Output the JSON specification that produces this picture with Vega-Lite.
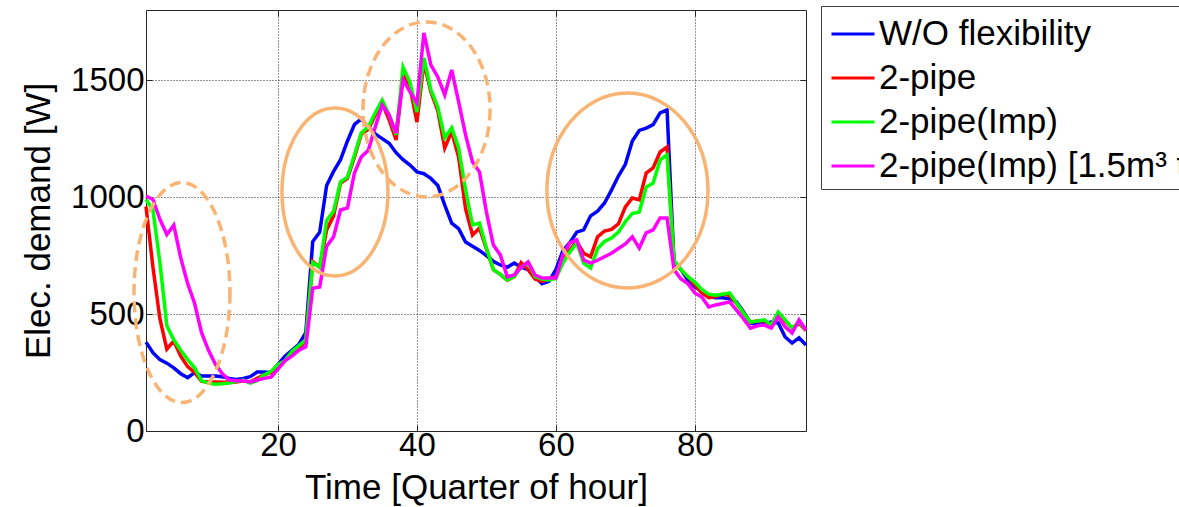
{
  "$schema": "https://vega.github.io/schema/vega-lite/v6.json",
  "width": 660,
  "height": 421,
  "autosize": {"type": "none"},
  "padding": {"left": 146, "top": 10, "right": 373, "bottom": 76},
  "background": "white",
  "config": {
    "font": "Liberation Sans",
    "view": {"stroke": "#262626", "strokeWidth": 1}
  },
  "resolve": {"axis": {"x": "independent", "y": "independent"}},
  "layer": [
    {
      "data": {
        "values": [
          {"t": 1, "wo": 380, "p2": 960, "imp": 990, "tank": 1005},
          {"t": 2, "wo": 335, "p2": 700, "imp": 945, "tank": 990},
          {"t": 3, "wo": 305, "p2": 480, "imp": 720, "tank": 905},
          {"t": 4, "wo": 290, "p2": 350, "imp": 450, "tank": 840},
          {"t": 5, "wo": 270, "p2": 385, "imp": 390, "tank": 880},
          {"t": 6, "wo": 245, "p2": 320, "imp": 345, "tank": 740},
          {"t": 7, "wo": 228, "p2": 275, "imp": 305, "tank": 630},
          {"t": 8, "wo": 250, "p2": 250, "imp": 270, "tank": 545},
          {"t": 9, "wo": 235, "p2": 212, "imp": 215, "tank": 420},
          {"t": 10, "wo": 235, "p2": 210, "imp": 205, "tank": 345},
          {"t": 11, "wo": 235, "p2": 210, "imp": 200, "tank": 285},
          {"t": 12, "wo": 232, "p2": 208, "imp": 202, "tank": 245},
          {"t": 13, "wo": 225, "p2": 210, "imp": 205, "tank": 218},
          {"t": 14, "wo": 220, "p2": 210, "imp": 212, "tank": 215},
          {"t": 15, "wo": 225, "p2": 215, "imp": 218, "tank": 215},
          {"t": 16, "wo": 232, "p2": 210, "imp": 205, "tank": 210},
          {"t": 17, "wo": 252, "p2": 225, "imp": 215, "tank": 218},
          {"t": 18, "wo": 252, "p2": 240, "imp": 240, "tank": 225},
          {"t": 19, "wo": 250, "p2": 250, "imp": 255, "tank": 230},
          {"t": 20, "wo": 285, "p2": 275, "imp": 285, "tank": 265},
          {"t": 21, "wo": 320, "p2": 300, "imp": 300, "tank": 300},
          {"t": 22, "wo": 345, "p2": 335, "imp": 340, "tank": 320},
          {"t": 23, "wo": 370, "p2": 355, "imp": 365, "tank": 345},
          {"t": 24, "wo": 420, "p2": 385, "imp": 390, "tank": 360},
          {"t": 25, "wo": 810, "p2": 725, "imp": 720, "tank": 610},
          {"t": 26, "wo": 850, "p2": 700, "imp": 700, "tank": 616},
          {"t": 27, "wo": 1050, "p2": 860, "imp": 900, "tank": 790},
          {"t": 28, "wo": 1110, "p2": 920, "imp": 940, "tank": 830},
          {"t": 29, "wo": 1160, "p2": 1060, "imp": 1065, "tank": 945},
          {"t": 30, "wo": 1240, "p2": 1080, "imp": 1085, "tank": 954},
          {"t": 31, "wo": 1310, "p2": 1170, "imp": 1180, "tank": 1103},
          {"t": 32, "wo": 1335, "p2": 1270, "imp": 1275, "tank": 1172},
          {"t": 33, "wo": 1300, "p2": 1290, "imp": 1300, "tank": 1200},
          {"t": 34, "wo": 1270, "p2": 1350, "imp": 1360, "tank": 1300},
          {"t": 35, "wo": 1250, "p2": 1400, "imp": 1415, "tank": 1394},
          {"t": 36, "wo": 1230, "p2": 1330, "imp": 1351, "tank": 1351},
          {"t": 37, "wo": 1190, "p2": 1244, "imp": 1266, "tank": 1274},
          {"t": 38, "wo": 1160, "p2": 1522, "imp": 1556, "tank": 1501},
          {"t": 39, "wo": 1137, "p2": 1470, "imp": 1490, "tank": 1450},
          {"t": 40, "wo": 1108, "p2": 1321, "imp": 1364, "tank": 1403},
          {"t": 41, "wo": 1100, "p2": 1575, "imp": 1595, "tank": 1702},
          {"t": 42, "wo": 1080, "p2": 1450, "imp": 1460, "tank": 1565},
          {"t": 43, "wo": 1050, "p2": 1370, "imp": 1385, "tank": 1514},
          {"t": 44, "wo": 966, "p2": 1210, "imp": 1253, "tank": 1437},
          {"t": 45, "wo": 889, "p2": 1280, "imp": 1296, "tank": 1544},
          {"t": 46, "wo": 865, "p2": 1170, "imp": 1210, "tank": 1407},
          {"t": 47, "wo": 808, "p2": 950, "imp": 1030, "tank": 1266},
          {"t": 48, "wo": 790, "p2": 838, "imp": 881, "tank": 1150},
          {"t": 49, "wo": 772, "p2": 868, "imp": 889, "tank": 1108},
          {"t": 50, "wo": 750, "p2": 778, "imp": 782, "tank": 936},
          {"t": 51, "wo": 725, "p2": 690, "imp": 690, "tank": 795},
          {"t": 52, "wo": 710, "p2": 670, "imp": 670, "tank": 753},
          {"t": 53, "wo": 700, "p2": 645, "imp": 646, "tank": 659},
          {"t": 54, "wo": 718, "p2": 660, "imp": 660, "tank": 667},
          {"t": 55, "wo": 700, "p2": 720, "imp": 700, "tank": 700},
          {"t": 56, "wo": 690, "p2": 690, "imp": 720, "tank": 723},
          {"t": 57, "wo": 660, "p2": 650, "imp": 660, "tank": 667},
          {"t": 58, "wo": 630, "p2": 640, "imp": 650, "tank": 654},
          {"t": 59, "wo": 640, "p2": 650, "imp": 646, "tank": 654},
          {"t": 60, "wo": 690, "p2": 660, "imp": 652, "tank": 654},
          {"t": 61, "wo": 770, "p2": 730, "imp": 718, "tank": 753},
          {"t": 62, "wo": 805, "p2": 775, "imp": 765, "tank": 804},
          {"t": 63, "wo": 850, "p2": 810, "imp": 804, "tank": 817},
          {"t": 64, "wo": 860, "p2": 760, "imp": 718, "tank": 731},
          {"t": 65, "wo": 920, "p2": 745, "imp": 697, "tank": 718},
          {"t": 66, "wo": 940, "p2": 830, "imp": 780, "tank": 730},
          {"t": 67, "wo": 975, "p2": 855, "imp": 810, "tank": 745},
          {"t": 68, "wo": 1030, "p2": 862, "imp": 825, "tank": 760},
          {"t": 69, "wo": 1090, "p2": 885, "imp": 850, "tank": 780},
          {"t": 70, "wo": 1140, "p2": 958, "imp": 895, "tank": 800},
          {"t": 71, "wo": 1240, "p2": 996, "imp": 930, "tank": 830},
          {"t": 72, "wo": 1285, "p2": 988, "imp": 936, "tank": 782},
          {"t": 73, "wo": 1295, "p2": 1103, "imp": 1043, "tank": 847},
          {"t": 74, "wo": 1310, "p2": 1125, "imp": 1060, "tank": 860},
          {"t": 75, "wo": 1360, "p2": 1193, "imp": 1159, "tank": 911},
          {"t": 76, "wo": 1373, "p2": 1214, "imp": 1180, "tank": 911},
          {"t": 77, "wo": 720, "p2": 725, "imp": 730, "tank": 690},
          {"t": 78, "wo": 690, "p2": 690, "imp": 690, "tank": 650},
          {"t": 79, "wo": 645, "p2": 660, "imp": 660, "tank": 630},
          {"t": 80, "wo": 615, "p2": 625, "imp": 637, "tank": 590},
          {"t": 81, "wo": 600, "p2": 590, "imp": 605, "tank": 573},
          {"t": 82, "wo": 575, "p2": 570, "imp": 585, "tank": 530},
          {"t": 83, "wo": 570, "p2": 575, "imp": 580, "tank": 539},
          {"t": 84, "wo": 570, "p2": 585, "imp": 585, "tank": 545},
          {"t": 85, "wo": 565, "p2": 580, "imp": 590, "tank": 552},
          {"t": 86, "wo": 552, "p2": 545, "imp": 547, "tank": 517},
          {"t": 87, "wo": 510, "p2": 505, "imp": 505, "tank": 480},
          {"t": 88, "wo": 462, "p2": 465, "imp": 466, "tank": 440},
          {"t": 89, "wo": 455, "p2": 470, "imp": 470, "tank": 450},
          {"t": 90, "wo": 460, "p2": 472, "imp": 475, "tank": 453},
          {"t": 91, "wo": 466, "p2": 452, "imp": 453, "tank": 440},
          {"t": 92, "wo": 462, "p2": 500, "imp": 509, "tank": 488},
          {"t": 93, "wo": 402, "p2": 470, "imp": 475, "tank": 445},
          {"t": 94, "wo": 376, "p2": 440, "imp": 440, "tank": 419},
          {"t": 95, "wo": 398, "p2": 460, "imp": 466, "tank": 475},
          {"t": 96, "wo": 368, "p2": 430, "imp": 432, "tank": 432}
        ]
      },
      "transform": [{"fold": ["wo", "p2", "imp", "tank"], "as": ["s", "v"]}],
      "mark": {"type": "line", "strokeWidth": 3.5},
      "encoding": {
        "x": {
          "field": "t", "type": "quantitative",
          "scale": {"domain": [1, 96], "nice": false, "zero": false},
          "axis": {
            "orient": "bottom", "values": [20, 40, 60, 80],
            "title": "Time [Quarter of hour]", "titleFontSize": 35, "titleFontWeight": "normal",
            "titleColor": "black", "titlePadding": 8, "titleFont": "Liberation Sans",
            "labelFontSize": 33, "labelColor": "black", "labelPadding": 4, "labelFont": "Liberation Sans",
            "tickSize": -6, "tickColor": "#262626", "domain": false,
            "grid": true, "gridColor": "#262626", "gridDash": [1, 2], "gridWidth": 1
          }
        },
        "y": {
          "field": "v", "type": "quantitative",
          "scale": {"domain": [0, 1800], "nice": false},
          "axis": {
            "orient": "left", "values": [0, 500, 1000, 1500], "format": "d",
            "title": "Elec. demand [W]", "titleFontSize": 35, "titleFontWeight": "normal",
            "titleColor": "black", "titlePadding": 14, "titleFont": "Liberation Sans",
            "labelFontSize": 33, "labelColor": "black", "labelPadding": 8, "labelFont": "Liberation Sans",
            "tickSize": -6, "tickColor": "#262626", "domain": false,
            "grid": true, "gridColor": "#262626", "gridDash": [1, 2], "gridWidth": 1
          }
        },
        "color": {
          "field": "s", "type": "nominal",
          "scale": {"domain": ["wo", "p2", "imp", "tank"], "range": ["#0000ff", "#ff0000", "#00ff00", "#ff00ff"]},
          "legend": {
            "orient": "none", "legendX": 675, "legendY": -4, "title": null,
            "symbolType": "stroke", "symbolSize": 1849, "symbolStrokeWidth": 3, "symbolOffset": 4,
            "labelFontSize": 35, "labelFont": "Liberation Sans", "labelColor": "black",
            "strokeColor": "#404040", "fillColor": "white", "padding": 5,
            "labelOffset": 3, "rowPadding": 3, "labelLimit": 0,
            "labelExpr": "datum.value == 'wo' ? 'W/O flexibility' : datum.value == 'p2' ? '2-pipe' : datum.value == 'imp' ? '2-pipe(Imp)' : '2-pipe(Imp) [1.5m³ tank]'"
          }
        }
      }
    },
    {
      "data": {"values": [{"t": 6.18, "v": 592}]},
      "mark": {
        "type": "point", "filled": false, "color": "#f9b473", "strokeWidth": 3.5, "strokeDash": [11, 6], "opacity": 1,
        "size": 48400,
        "shape": "M 0.436 0 C 0.436 0.5523 0.2408 1 0 1 C -0.2408 1 -0.436 0.5523 -0.436 0 C -0.436 -0.5523 -0.2408 -1 0 -1 C 0.2408 -1 0.436 -0.5523 0.436 0 Z"
      },
      "encoding": {
        "x": {"field": "t", "type": "quantitative", "axis": {"orient": "top", "values": [20, 40, 60, 80], "labels": false, "title": null, "tickSize": -6, "tickColor": "#262626", "domain": false, "grid": false}},
        "y": {"field": "v", "type": "quantitative", "axis": {"orient": "right", "values": [0, 500, 1000, 1500], "labels": false, "title": null, "tickSize": -6, "tickColor": "#262626", "domain": false, "grid": false}}
      }
    },
    {
      "data": {"values": [{"t": 28.2, "v": 1022}]},
      "mark": {
        "type": "point", "filled": false, "color": "#f9b473", "strokeWidth": 3.5, "opacity": 1,
        "size": 28224,
        "shape": "M 0.631 0 C 0.631 0.5523 0.3485 1 0 1 C -0.3485 1 -0.631 0.5523 -0.631 0 C -0.631 -0.5523 -0.3485 -1 0 -1 C 0.3485 -1 0.631 -0.5523 0.631 0 Z"
      },
      "encoding": {
        "x": {"field": "t", "type": "quantitative", "axis": null},
        "y": {"field": "v", "type": "quantitative", "axis": null}
      }
    },
    {
      "data": {"values": [{"t": 41.38, "v": 1375}]},
      "mark": {
        "type": "point", "filled": false, "color": "#f9b473", "strokeWidth": 3.5, "strokeDash": [11, 6], "opacity": 1,
        "size": 30625,
        "shape": "M 0.726 0 C 0.726 0.5523 0.401 1 0 1 C -0.401 1 -0.726 0.5523 -0.726 0 C -0.726 -0.5523 -0.401 -1 0 -1 C 0.401 -1 0.726 -0.5523 0.726 0 Z"
      },
      "encoding": {
        "x": {"field": "t", "type": "quantitative", "axis": null},
        "y": {"field": "v", "type": "quantitative", "axis": null}
      }
    },
    {
      "data": {"values": [{"t": 70.3, "v": 1028}]},
      "mark": {
        "type": "point", "filled": false, "color": "#f9b473", "strokeWidth": 3.5, "opacity": 1,
        "size": 38025,
        "shape": "M 0.826 0 C 0.826 0.5523 0.4562 1 0 1 C -0.4562 1 -0.826 0.5523 -0.826 0 C -0.826 -0.5523 -0.4562 -1 0 -1 C 0.4562 -1 0.826 -0.5523 0.826 0 Z"
      },
      "encoding": {
        "x": {"field": "t", "type": "quantitative", "axis": null},
        "y": {"field": "v", "type": "quantitative", "axis": null}
      }
    }
  ]
}
